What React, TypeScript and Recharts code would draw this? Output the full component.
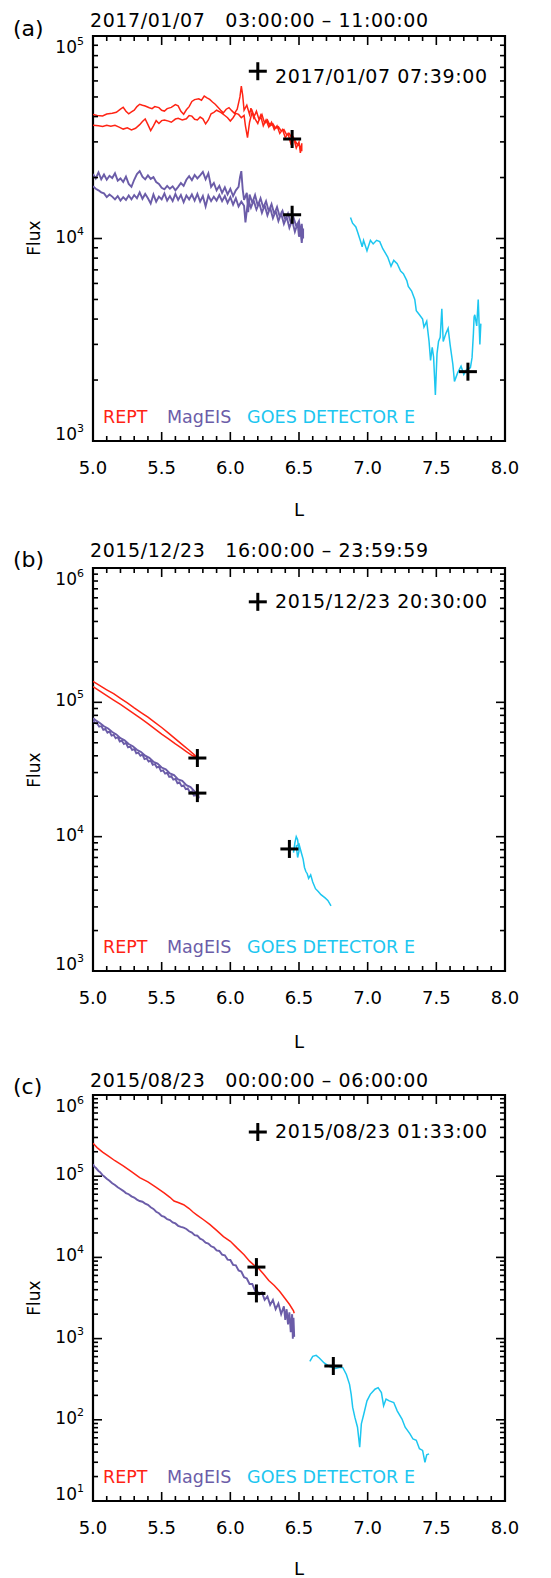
import React from 'react'
import { ComposedChart, Line, Scatter, XAxis, YAxis, ReferenceArea } from 'recharts'

const RED = '#ff2414'
const PURPLE = '#6b5ca8'
const CYAN = '#1cc6f0'
const FONT = '"DejaVu Sans", sans-serif'

type Pt = [number, number]

// L axis ticks (shared)
const lTicks = [5.0, 5.1, 5.2, 5.3, 5.4, 5.5, 5.6, 5.7, 5.8, 5.9, 6.0, 6.1, 6.2, 6.3, 6.4, 6.5, 6.6, 6.7, 6.8, 6.9,
  7.0, 7.1, 7.2, 7.3, 7.4, 7.5, 7.6, 7.7, 7.8, 7.9, 8.0]

const fluxTicksA = [1000, 2000, 3000, 4000, 5000, 6000, 7000, 8000, 9000, 10000, 20000, 30000, 40000, 50000, 60000,
  70000, 80000, 90000, 100000]
const fluxTicksB = [1000, 2000, 3000, 4000, 5000, 6000, 7000, 8000, 9000, 10000, 20000, 30000, 40000, 50000, 60000,
  70000, 80000, 90000, 100000, 200000, 300000, 400000, 500000, 600000, 700000, 800000, 900000, 1000000]
const fluxTicksC = [10, 20, 30, 40, 50, 60, 70, 80, 90, 100, 200, 300, 400, 500, 600, 700, 800, 900, 1000, 2000, 3000,
  4000, 5000, 6000, 7000, 8000, 9000, 10000, 20000, 30000, 40000, 50000, 60000, 70000, 80000, 90000, 100000, 200000,
  300000, 400000, 500000, 600000, 700000, 800000, 900000, 1000000]

// ---- panel (a) 2017/01/07 ----
const reptA: Pt[] = [
  [5.00, 41000], [5.03, 40500], [5.07, 40300], [5.10, 41200], [5.14, 41500], [5.17, 42000], [5.20, 43500], [5.22, 44500],
  [5.24, 42500], [5.26, 41300], [5.28, 42200], [5.30, 43000], [5.32, 44800], [5.34, 46000], [5.36, 45500], [5.38, 45100],
  [5.41, 44200], [5.43, 43800], [5.45, 44800], [5.48, 44300], [5.50, 43000], [5.52, 42600], [5.54, 43800], [5.57, 44400],
  [5.60, 45800], [5.62, 45200], [5.64, 42500], [5.66, 41100], [5.68, 43200], [5.70, 44800], [5.72, 47500], [5.74, 48500],
  [5.77, 49000], [5.79, 48200], [5.81, 50500], [5.83, 49500], [5.85, 48600], [5.87, 47200], [5.89, 46000], [5.91, 44500],
  [5.93, 43000], [5.95, 41800], [5.97, 43500], [5.99, 44300], [6.01, 42800], [6.03, 41500], [6.05, 43500], [6.07, 50000],
  [6.08, 56500], [6.09, 51000], [6.10, 43000], [6.12, 45500], [6.14, 41000], [6.15, 44000], [6.17, 39500], [6.19, 42500],
  [6.21, 38500], [6.23, 41000], [6.25, 37000], [6.27, 38500], [6.29, 36000], [6.31, 36800], [6.33, 35000], [6.35, 35600],
  [6.37, 34000], [6.39, 34500], [6.41, 32500], [6.43, 33000], [6.45, 31000], [6.47, 30500], [6.49, 29000], [6.51, 28500],
  [6.52, 27000],
  [6.52, 29500], [6.51, 26500], [6.50, 30000], [6.48, 28000], [6.46, 31500], [6.44, 29500], [6.42, 33000], [6.40, 31500],
  [6.38, 34500], [6.36, 33000], [6.34, 36000], [6.32, 34500], [6.30, 37500], [6.28, 35500], [6.26, 38500], [6.24, 36000],
  [6.22, 40500], [6.20, 37000], [6.18, 39000], [6.16, 42500], [6.14, 37500], [6.125, 31500], [6.11, 36000], [6.10, 40500],
  [6.08, 39500], [6.06, 41000], [6.04, 41500], [6.02, 39500], [6.00, 38000], [5.98, 39500], [5.96, 40500], [5.93, 42000],
  [5.90, 43000], [5.88, 42000], [5.86, 41300], [5.84, 38500], [5.82, 36800], [5.80, 39000], [5.78, 39800], [5.76, 38500],
  [5.74, 38800], [5.72, 40200], [5.70, 40500], [5.68, 39000], [5.65, 38500], [5.62, 39200], [5.60, 38900], [5.57, 37500],
  [5.55, 38000], [5.52, 38500], [5.50, 38200], [5.48, 37000], [5.46, 38200], [5.44, 36000], [5.42, 34100], [5.40, 36500],
  [5.38, 38900], [5.36, 37800], [5.34, 36500], [5.31, 35000], [5.28, 34400], [5.25, 35200], [5.22, 34700], [5.19, 35500],
  [5.16, 36200], [5.13, 35800], [5.10, 36200], [5.07, 35700], [5.04, 36000], [5.00, 36200],
]

const magA: Pt[] = [
  [5.00, 20800], [5.02, 19800], [5.04, 21200], [5.06, 19600], [5.08, 20700], [5.10, 19500], [5.12, 20400], [5.14, 19900],
  [5.16, 21000], [5.18, 19300], [5.20, 19800], [5.22, 19000], [5.24, 20200], [5.26, 18600], [5.28, 18000], [5.30, 19500],
  [5.32, 20800], [5.34, 21500], [5.36, 20200], [5.38, 19600], [5.40, 20500], [5.42, 19700], [5.44, 20100], [5.46, 19000],
  [5.48, 18600], [5.50, 17800], [5.52, 17500], [5.54, 18200], [5.56, 17600], [5.58, 18100], [5.60, 17300], [5.62, 18000],
  [5.64, 18800], [5.66, 18200], [5.68, 19500], [5.70, 20300], [5.72, 19400], [5.74, 20600], [5.76, 19800], [5.78, 20500],
  [5.80, 21300], [5.82, 19600], [5.84, 21000], [5.86, 18000], [5.88, 18800], [5.90, 17300], [5.92, 18200], [5.94, 16800],
  [5.96, 17900], [5.98, 16500], [6.00, 17600], [6.02, 16200], [6.04, 17300], [6.06, 18000], [6.07, 20000], [6.08, 21500],
  [6.09, 17500], [6.10, 15500], [6.12, 16800], [6.13, 13500], [6.14, 16500], [6.16, 15000], [6.18, 16400], [6.20, 14500],
  [6.22, 15800], [6.24, 14200], [6.26, 15300], [6.28, 13600], [6.30, 14800], [6.32, 13200], [6.34, 14300], [6.36, 12800],
  [6.38, 13700], [6.40, 12400], [6.42, 13300], [6.44, 12000], [6.46, 12700], [6.48, 11500], [6.50, 12200], [6.51, 10500],
  [6.52, 11800], [6.53, 10000],
  [6.53, 11200], [6.52, 9500], [6.51, 11000], [6.50, 10200], [6.49, 11900], [6.47, 10800], [6.45, 12300], [6.43, 11300],
  [6.41, 12800], [6.39, 11800], [6.37, 13300], [6.35, 12200], [6.33, 13700], [6.31, 12600], [6.29, 14200], [6.27, 13000],
  [6.25, 14600], [6.23, 13400], [6.21, 15000], [6.19, 13900], [6.17, 15400], [6.15, 14200], [6.13, 15700], [6.11, 12000],
  [6.10, 14500], [6.08, 15200], [6.06, 14400], [6.04, 15800], [6.02, 14700], [6.00, 16000], [5.98, 15000], [5.96, 16200],
  [5.94, 15300], [5.92, 16400], [5.90, 15400], [5.88, 16100], [5.86, 15300], [5.84, 16300], [5.82, 14400], [5.80, 16200],
  [5.78, 15200], [5.76, 16600], [5.74, 15400], [5.72, 16500], [5.70, 15600], [5.68, 16300], [5.66, 15100], [5.64, 16400],
  [5.62, 15500], [5.60, 16600], [5.58, 15300], [5.56, 16200], [5.54, 15400], [5.52, 16700], [5.50, 15600], [5.48, 16100],
  [5.46, 15200], [5.44, 16500], [5.42, 14900], [5.40, 15800], [5.38, 16600], [5.36, 15700], [5.34, 16900], [5.32, 15800],
  [5.30, 16400], [5.28, 15600], [5.26, 16300], [5.24, 15500], [5.22, 16000], [5.20, 15400], [5.18, 16200], [5.16, 15600],
  [5.14, 16100], [5.12, 16500], [5.10, 16000], [5.08, 16700], [5.06, 16900], [5.04, 17300], [5.02, 17600], [5.00, 18100],
]

const goesA: Pt[] = [
  [6.875, 12700], [6.89, 11900], [6.914, 11400], [6.926, 10800], [6.95, 9600], [6.96, 9100], [6.97, 9800], [6.995, 8700],
  [7.02, 9800], [7.04, 9400], [7.065, 9800], [7.088, 9650], [7.11, 8900], [7.146, 8100], [7.17, 7300], [7.19, 7800],
  [7.215, 7500], [7.24, 6900], [7.26, 6700], [7.285, 6200], [7.296, 5800], [7.32, 5500], [7.343, 5000], [7.354, 4400],
  [7.377, 4200], [7.40, 4000], [7.41, 3650], [7.43, 3900], [7.447, 3100], [7.458, 2500], [7.47, 2900], [7.48, 2600],
  [7.493, 1690], [7.505, 2700], [7.516, 3100], [7.528, 3250], [7.54, 4500], [7.55, 3100], [7.57, 3400], [7.586, 3600],
  [7.60, 3000], [7.62, 2400], [7.632, 1970], [7.655, 2170], [7.68, 2340], [7.70, 2130], [7.72, 2250], [7.748, 2300],
  [7.76, 2580], [7.77, 3400], [7.775, 4100], [7.78, 4200], [7.794, 3700], [7.805, 5000], [7.817, 3000], [7.824, 3800],
]

const marksA: Pt[] = [[6.20, 67000], [6.45, 31000], [6.45, 13100], [7.73, 2200]]

// ---- panel (b) 2015/12/23 ----
const reptB: Pt[] = [
  [5.00, 143000], [5.05, 133000], [5.10, 124000], [5.15, 116000], [5.20, 107000], [5.25, 99000], [5.30, 91000],
  [5.35, 84000], [5.40, 77500], [5.45, 71000], [5.50, 65000], [5.55, 59000], [5.60, 53500], [5.65, 48500], [5.70, 44000],
  [5.74, 40500], [5.76, 38500],
  [5.72, 40300], [5.68, 43000], [5.64, 46000], [5.60, 49000], [5.55, 53500], [5.50, 58000], [5.45, 63500], [5.40, 69500],
  [5.35, 75500], [5.30, 82000], [5.25, 89000], [5.20, 96500], [5.15, 104000], [5.10, 112000], [5.05, 121000],
  [5.00, 131000],
]

const magB: Pt[] = [
  [5.00, 73000], [5.015, 70000], [5.03, 69500], [5.045, 66000], [5.06, 66800], [5.075, 62500], [5.09, 63300],
  [5.105, 59500], [5.12, 60800], [5.135, 56500], [5.15, 57300], [5.165, 54000], [5.18, 55200], [5.195, 51000],
  [5.21, 51800], [5.225, 49000], [5.24, 49800], [5.255, 46200], [5.27, 46900], [5.285, 44200], [5.30, 45200],
  [5.315, 41800], [5.33, 42300], [5.345, 40000], [5.36, 40800], [5.375, 37800], [5.39, 38300], [5.405, 36200],
  [5.42, 36800], [5.435, 34300], [5.45, 34800], [5.465, 32700], [5.48, 33300], [5.495, 30800], [5.51, 31200],
  [5.525, 29500], [5.54, 29900], [5.555, 27900], [5.57, 28200], [5.585, 26600], [5.60, 26900], [5.615, 25000],
  [5.63, 25400], [5.645, 23800], [5.66, 24100], [5.675, 22600], [5.69, 22900], [5.705, 21400], [5.72, 21700],
  [5.735, 20200], [5.75, 20400], [5.765, 19300], [5.77, 19600],
  [5.765, 21000], [5.74, 21700], [5.71, 23400], [5.68, 24200], [5.65, 26000], [5.62, 26700], [5.59, 28700],
  [5.56, 29600], [5.53, 31700], [5.50, 32700], [5.47, 35000], [5.44, 36100], [5.41, 38600], [5.38, 40100],
  [5.35, 42700], [5.32, 44300], [5.29, 47100], [5.26, 48900], [5.23, 52100], [5.20, 54100], [5.17, 57700],
  [5.14, 60100], [5.11, 63900], [5.08, 66400], [5.05, 70100], [5.02, 73400], [5.00, 76000],
]

const goesB: Pt[] = [
  [6.46, 7600], [6.47, 9000], [6.48, 10000], [6.49, 9500], [6.50, 7800], [6.49, 7000], [6.48, 8500], [6.50, 8800],
  [6.52, 7400], [6.53, 6800], [6.54, 5900], [6.55, 5500], [6.56, 5300], [6.57, 4900], [6.585, 5200], [6.60, 4600],
  [6.62, 4100], [6.64, 3900], [6.66, 3700], [6.69, 3500], [6.71, 3350], [6.733, 3050],
]

const marksB: Pt[] = [[6.20, 560000], [5.76, 38500], [5.76, 21100], [6.43, 8100]]

// ---- panel (c) 2015/08/23 ----
const reptC: Pt[] = [
  [5.00, 255000], [5.03, 225000], [5.07, 198000], [5.11, 178000], [5.16, 155000], [5.22, 134000], [5.28, 114000],
  [5.34, 96000], [5.40, 85000], [5.46, 73000], [5.52, 62000], [5.56, 55000], [5.59, 49500], [5.62, 47500],
  [5.66, 44500], [5.70, 40000], [5.73, 36000], [5.76, 33000], [5.80, 29500], [5.85, 25500], [5.90, 21500],
  [5.95, 18000], [6.00, 15800], [6.05, 13000], [6.10, 10800], [6.14, 9000], [6.17, 8100], [6.20, 7500], [6.24, 6300],
  [6.28, 5200], [6.32, 4500], [6.36, 3800], [6.40, 3100], [6.43, 2650], [6.46, 2200], [6.465, 2050],
]

const magC: Pt[] = [
  [5.00, 140000], [5.01, 131000], [5.02, 127000], [5.04, 116000], [5.05, 113000], [5.07, 103000], [5.08, 100000],
  [5.10, 93000], [5.12, 88000], [5.14, 82000], [5.16, 78000], [5.18, 73000], [5.20, 69500], [5.22, 66000],
  [5.24, 62000], [5.26, 60000], [5.28, 56500], [5.30, 54500], [5.32, 51500], [5.34, 49500], [5.36, 48500],
  [5.38, 46000], [5.40, 44500], [5.42, 41500], [5.44, 39500], [5.46, 36500], [5.48, 35000], [5.50, 32500],
  [5.52, 31500], [5.54, 29500], [5.56, 28800], [5.58, 27000], [5.60, 26200], [5.62, 24500], [5.64, 23800],
  [5.66, 23200], [5.68, 22400], [5.70, 21000], [5.72, 20200], [5.74, 18800], [5.76, 18500], [5.78, 17000],
  [5.80, 16400], [5.82, 15200], [5.84, 14800], [5.86, 13700], [5.88, 13300], [5.90, 12200], [5.92, 12000],
  [5.94, 10800], [5.96, 10600], [5.98, 9400], [6.00, 9300], [6.02, 8100], [6.04, 8000], [6.06, 6900], [6.08, 6700],
  [6.10, 5700], [6.12, 5500], [6.14, 4700], [6.16, 4700], [6.18, 3900], [6.19, 4000], [6.21, 3500], [6.23, 3700],
  [6.25, 3000], [6.27, 3300], [6.29, 2600], [6.31, 3000], [6.33, 2300], [6.35, 2700], [6.37, 2000], [6.39, 2500],
  [6.40, 1700], [6.41, 2300], [6.42, 1500], [6.43, 2100], [6.44, 1200], [6.45, 2000], [6.455, 1000], [6.46, 1800],
  [6.465, 1050],
]

const goesC: Pt[] = [
  [6.579, 526], [6.60, 605], [6.625, 622], [6.648, 577], [6.683, 502], [6.718, 457], [6.764, 428], [6.80, 444],
  [6.82, 437], [6.845, 362], [6.868, 273], [6.88, 206], [6.891, 142], [6.907, 107], [6.926, 81], [6.942, 46],
  [6.954, 89], [6.972, 118], [6.995, 171], [7.019, 206], [7.053, 238], [7.076, 249], [7.10, 216], [7.116, 149],
  [7.134, 180], [7.157, 171], [7.19, 163], [7.215, 129], [7.25, 102], [7.273, 81], [7.308, 67], [7.33, 58],
  [7.354, 56], [7.377, 44], [7.40, 42], [7.417, 30], [7.43, 37], [7.447, 38],
]

const marksC: Pt[] = [[6.20, 350000], [6.19, 7600], [6.19, 3600], [6.75, 460]]

const rows = (pts: Pt[]) => pts.map(([L, F]) => ({ L, F }))

const PLOT_L = 93
const PLOT_R = 505

const Cross = (props: any) => {
  const { cx, cy } = props
  return (
    <g>
      <line x1={cx - 9} x2={cx + 9} y1={cy} y2={cy} stroke="#000" strokeWidth={3} />
      <line x1={cx} x2={cx} y1={cy - 9} y2={cy + 9} stroke="#000" strokeWidth={3} />
    </g>
  )
}

interface PanelProps {
  top: number
  height: number
  plotTop: number
  plotBottom: number
  yDomain: [number, number]
  yTicks: number[]
  rept: Pt[]
  mag: Pt[]
  goes: Pt[]
  marks: Pt[]
}

const Panel: React.FC<PanelProps> = ({ top, height, plotTop, plotBottom, yDomain, yTicks, rept, mag, goes, marks }) => {
  const xTick = (p: any) => {
    const v = p.payload.value
    const major = Math.abs(v * 2 - Math.round(v * 2)) < 1e-6
    const len = major ? 9 : 5
    return (
      <g>
        <line x1={p.x} x2={p.x} y1={plotBottom} y2={plotBottom - len} stroke="#000" strokeWidth={1.6} />
        <line x1={p.x} x2={p.x} y1={plotTop} y2={plotTop + len} stroke="#000" strokeWidth={1.6} />
        {major && (
          <text x={p.x} y={plotBottom + 33} textAnchor="middle" fontFamily={FONT} fontSize={18} fill="#000">
            {v.toFixed(1)}
          </text>
        )}
      </g>
    )
  }

  const yTick = (p: any) => {
    const v = p.payload.value
    const e = Math.log10(v)
    const major = Math.abs(e - Math.round(e)) < 1e-6
    const len = major ? 9 : 5
    let dy = 4
    if (v === yDomain[1]) dy = 17
    if (v === yDomain[0]) dy = -1
    return (
      <g>
        <line x1={PLOT_L} x2={PLOT_L + len} y1={p.y} y2={p.y} stroke="#000" strokeWidth={1.6} />
        <line x1={PLOT_R} x2={PLOT_R - len} y1={p.y} y2={p.y} stroke="#000" strokeWidth={1.6} />
        {major && (
          <text x={84} y={p.y + dy} textAnchor="end" fontFamily={FONT} fontSize={17} fill="#000">
            10<tspan dy={-8} fontSize={11}>{Math.round(e)}</tspan>
          </text>
        )}
      </g>
    )
  }

  return (
    <div style={{ position: 'absolute', left: 0, top }}>
      <ComposedChart
        width={551}
        height={height}
        margin={{ top: plotTop, right: 551 - PLOT_R, bottom: 0, left: 0 }}
      >
        <XAxis type="number" dataKey="L" domain={[5, 8]} ticks={lTicks} interval={0} tick={xTick}
          tickLine={false} axisLine={false} height={height - plotBottom} allowDataOverflow />
        <YAxis type="number" dataKey="F" scale="log" domain={yDomain} ticks={yTicks} interval={0} tick={yTick}
          tickLine={false} axisLine={false} width={PLOT_L} allowDataOverflow />
        <ReferenceArea x1={5} x2={8} y1={yDomain[0]} y2={yDomain[1]} fill="none" stroke="#000" strokeWidth={2.2}
          ifOverflow="visible" />
        <Line data={rows(rept)} dataKey="F" type="linear" stroke={RED} strokeWidth={1.5} dot={false}
          isAnimationActive={false} />
        <Line data={rows(mag)} dataKey="F" type="linear" stroke={PURPLE} strokeWidth={1.9} dot={false}
          isAnimationActive={false} />
        <Line data={rows(goes)} dataKey="F" type="linear" stroke={CYAN} strokeWidth={1.5} dot={false}
          isAnimationActive={false} />
        <Scatter data={rows(marks)} dataKey="F" shape={Cross} isAnimationActive={false} />
      </ComposedChart>
    </div>
  )
}

const panelText = [
  { letter: '(a)', title: '2017/01/07\u00a0\u00a0\u00a003:00:00 \u2013 11:00:00', stamp: '2017/01/07 07:39:00',
    letterY: 36, titleY: 27, stampY: 83, legendY: 423, fluxY: 238, lY: 516 },
  { letter: '(b)', title: '2015/12/23\u00a0\u00a0\u00a016:00:00 \u2013 23:59:59', stamp: '2015/12/23 20:30:00',
    letterY: 567, titleY: 557, stampY: 608, legendY: 953, fluxY: 770, lY: 1048 },
  { letter: '(c)', title: '2015/08/23\u00a0\u00a0\u00a000:00:00 \u2013 06:00:00', stamp: '2015/08/23 01:33:00',
    letterY: 1094, titleY: 1087, stampY: 1138, legendY: 1483, fluxY: 1298, lY: 1575 },
]

const App: React.FC = () => {
  return (
    <div style={{ position: 'absolute', left: 0, top: 0, width: 551, height: 1578, background: '#fff' }}>
      <Panel top={0} height={520} plotTop={36} plotBottom={441} yDomain={[1000, 100000]} yTicks={fluxTicksA}
        rept={reptA} mag={magA} goes={goesA} marks={marksA} />
      <Panel top={520} height={525} plotTop={48} plotBottom={451} yDomain={[1000, 1000000]} yTicks={fluxTicksB}
        rept={reptB} mag={magB} goes={goesB} marks={marksB} />
      <Panel top={1045} height={533} plotTop={50} plotBottom={456} yDomain={[10, 1000000]} yTicks={fluxTicksC}
        rept={reptC} mag={magC} goes={goesC} marks={marksC} />
      <svg width={551} height={1578} style={{ position: 'absolute', left: 0, top: 0, pointerEvents: 'none' }}>
        {panelText.map((t) => (
          <g key={t.letter} fontFamily={FONT} fill="#000">
            <text x={13} y={t.letterY} fontSize={22}>{t.letter}</text>
            <text x={90} y={t.titleY} fontSize={19} textLength={338} lengthAdjust="spacing">{t.title}</text>
            <text x={275} y={t.stampY} fontSize={19} textLength={212} lengthAdjust="spacing">{t.stamp}</text>
            <text x={103} y={t.legendY} fontSize={17.5} fill={RED}>REPT</text>
            <text x={167} y={t.legendY} fontSize={17.5} fill={PURPLE}>MagEIS</text>
            <text x={247} y={t.legendY} fontSize={17.5} fill={CYAN} textLength={168} lengthAdjust="spacing">
              GOES DETECTOR E
            </text>
            <text x={40} y={t.fluxY} fontSize={17} textAnchor="middle" transform={`rotate(-90 40 ${t.fluxY})`}>
              Flux
            </text>
            <text x={299} y={t.lY} fontSize={18} textAnchor="middle">L</text>
          </g>
        ))}
      </svg>
    </div>
  )
}

export default App
